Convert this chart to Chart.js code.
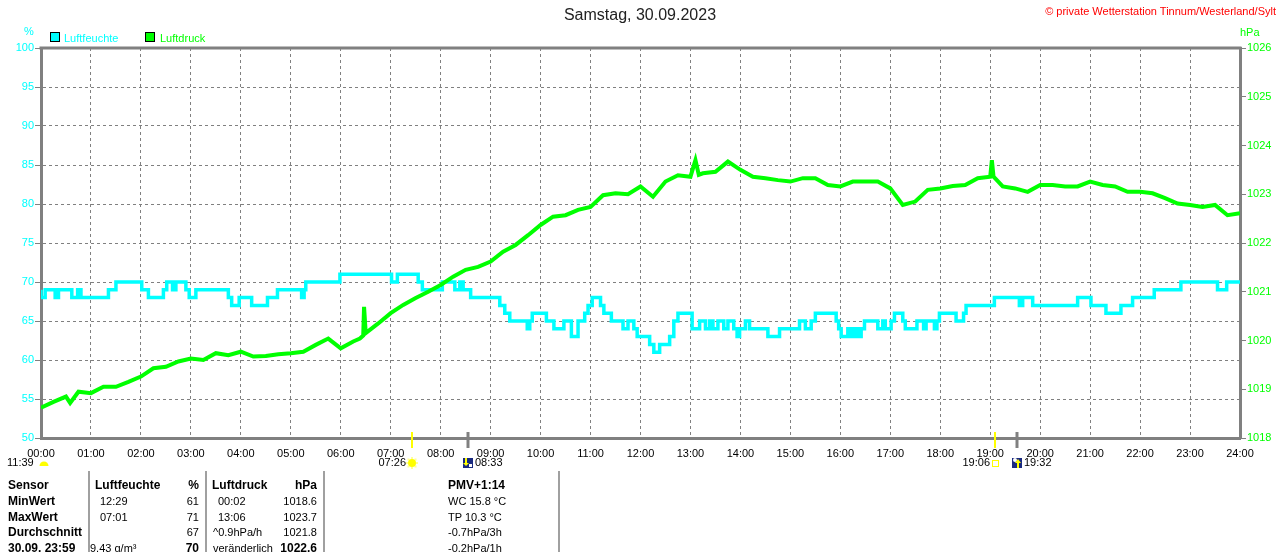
<!DOCTYPE html>
<html>
<head>
<meta charset="utf-8">
<script src="https://cdn.jsdelivr.net/npm/chart.js@4"></script>
<style>
  body { margin: 0; background: #fff; font-family: 'Liberation Sans', Arial, sans-serif; }
  #wrap { position: relative; width: 1280px; height: 552px; overflow: hidden; }
  #c { position: absolute; left: 0; top: 0; }
  .t { position: absolute; white-space: pre; font-size: 11px; line-height: 16px; color: #000; }
  .b { font-weight: bold; font-size: 12px; }
  .sep { position: absolute; top: 471px; width: 2px; height: 81px; background: #a0a0a0; }
  .box { position: absolute; width: 8px; height: 8px; border: 1px solid #000; }
</style>
</head>
<body>
<div id="wrap">
  <canvas id="c" width="1280" height="552"></canvas>
  <div class="t" style="left:0;width:1280px;text-align:center;top:5px;line-height:20px;font-size:16px;color:#222">Samstag, 30.09.2023</div>
  <div class="t" style="right:4px;top:4px;line-height:14px;color:#ff0000">© private Wetterstation Tinnum/Westerland/Sylt</div>
  <div class="t" style="left:24px;top:23px;color:#00ffff">%</div>
  <div class="t" style="left:1240px;top:24px;color:#00ff00">hPa</div>
  <div class="box" style="left:50px;top:32px;background:#00ffff"></div>
  <div class="t" style="left:64px;top:30px;color:#00ffff">Luftfeuchte</div>
  <div class="box" style="left:145px;top:32px;background:#00ff00"></div>
  <div class="t" style="left:160px;top:30px;color:#00ff00">Luftdruck</div>
  <div id="table"></div>
</div>
<script>
// Luftfeuchte (%), Zeitpunkte der Änderung in Minuten ab 00:00
const humTimes = [0, 5, 17, 21, 37, 44, 48, 81, 90, 121, 129, 147, 151, 158, 162, 174, 178, 186,
  225, 229, 238, 253, 272, 284, 313, 316, 318, 359, 421, 428, 453, 458, 482, 497, 503, 507, 516,
  551, 557, 563, 584, 587, 590, 607, 616, 628, 637, 645, 653, 657, 662, 672, 676, 685, 699, 705,
  712, 716, 731, 736, 743, 755, 760, 765, 782, 791, 798, 803, 807, 813, 820, 825, 832, 836, 839,
  846, 851, 873, 887, 911, 918, 925, 930, 955, 958, 961, 969, 973, 977, 981, 985, 989, 1005,
  1011, 1014, 1021, 1025, 1035, 1038, 1052, 1060, 1063, 1073, 1076, 1079, 1099, 1108, 1111,
  1145, 1175, 1179, 1191, 1245, 1261, 1279, 1297, 1311, 1337, 1369, 1413, 1424, 1428, 1440];
const humValues = [69, 68, 69, 68, 69, 68, 69, 68, 69, 70, 69, 68, 69, 70, 69, 70, 69, 68,
  69, 68, 67, 68, 67, 68, 69, 68, 69, 70, 71, 70, 71, 70, 69, 70, 69, 70, 69,
  68, 67, 66, 65, 64, 65, 66, 65, 64, 65, 63, 65, 66, 67, 68, 67, 66, 65, 64,
  65, 64, 63, 62, 61, 62, 63, 65, 66, 64, 65, 64, 65, 64, 65, 64, 65, 64, 63,
  64, 65, 64, 63, 64, 65, 64, 65, 66, 65, 64, 63, 64, 63, 64, 63, 64, 65,
  64, 65, 64, 65, 66, 65, 64, 65, 64, 65, 64, 65, 66, 65, 66,
  67, 68, 67, 68, 67, 68, 67, 66, 67, 68, 69, 70, 69, 70, 70];

// Luftdruck (hPa)
const pressTimes = [0, 15, 30, 35, 45, 60, 75, 90, 105, 120, 135, 150, 165, 180, 195, 210, 225, 240,
  255, 270, 285, 300, 315, 330, 345, 360, 375, 383, 387, 388, 390, 405, 420, 435, 450, 465, 480,
  495, 510, 525, 540, 555, 570, 585, 600, 615, 630, 645, 660, 675, 690, 705, 720, 735, 750, 765,
  780, 786, 790, 795, 810, 825, 840, 855, 870, 885, 900, 915, 930, 945, 960, 975, 990, 1005,
  1020, 1035, 1050, 1065, 1080, 1095, 1110, 1125, 1140, 1142, 1144, 1155, 1170, 1185, 1200,
  1215, 1230, 1245, 1260, 1275, 1290, 1305, 1320, 1335, 1350, 1365, 1380, 1395, 1410, 1425, 1440];
const pressValues = [1018.62, 1018.74, 1018.85, 1018.72, 1018.95, 1018.92, 1019.05, 1019.05, 1019.15,
  1019.26, 1019.43, 1019.46, 1019.57, 1019.63, 1019.60, 1019.74, 1019.70, 1019.77, 1019.67,
  1019.68, 1019.72, 1019.74, 1019.77, 1019.91, 1020.04, 1019.84, 1019.98, 1020.04, 1020.10,
  1020.69, 1020.15, 1020.35, 1020.56, 1020.73, 1020.87, 1021.00, 1021.14, 1021.31, 1021.45,
  1021.51, 1021.62, 1021.82, 1021.96, 1022.16, 1022.37, 1022.54, 1022.57, 1022.68, 1022.74,
  1022.98, 1023.02, 1023.00, 1023.16, 1022.95, 1023.26, 1023.39, 1023.36, 1023.70, 1023.40,
  1023.43, 1023.46, 1023.67, 1023.50, 1023.36, 1023.33, 1023.29, 1023.26, 1023.33, 1023.33,
  1023.19, 1023.16, 1023.26, 1023.26, 1023.26, 1023.12, 1022.78, 1022.85, 1023.09, 1023.12,
  1023.17, 1023.19, 1023.33, 1023.36, 1023.70, 1023.36, 1023.16, 1023.12, 1023.05, 1023.19,
  1023.19, 1023.16, 1023.16, 1023.26, 1023.19, 1023.16, 1023.05, 1023.05, 1023.02, 1022.92,
  1022.81, 1022.78, 1022.74, 1022.78, 1022.57, 1022.61];

// Sonne / Mond
const sunrise = 446, moonset = 513, sunset = 1146, moonrise = 1172;
const sunriseLabel = '07:26', moonsetLabel = '08:33', sunsetLabel = '19:06', moonriseLabel = '19:32';
const dayLength = '11:39';

// Tabelle unten
const tableLabels = ['Sensor', 'MinWert', 'MaxWert', 'Durchschnitt', '30.09. 23:59'];
const humCol = ['Luftfeuchte', '12:29', '07:01', '', '9.43 g/m³'];
const humPct = ['%', '61', '71', '67', '70'];
const pressCol = ['Luftdruck', '00:02', '13:06', '^0.9hPa/h', 'veränderlich'];
const pressVal = ['hPa', '1018.6', '1023.7', '1021.8', '1022.6'];
const extraCol = ['PMV+1:14', 'WC 15.8 °C', 'TP 10.3 °C', '-0.7hPa/3h', '-0.2hPa/1h'];

const humColX = [95, 100, 100, 100, 90];
const pressColX = [212, 218, 218, 213, 213];

const table = document.getElementById('table');
function cell(text, x, top, bold, right) {
  const d = document.createElement('div');
  d.className = 't' + (bold ? ' b' : '');
  d.textContent = text;
  d.style.top = top + 'px';
  if (right) { d.style.left = (x - 100) + 'px'; d.style.width = '100px'; d.style.textAlign = 'right'; }
  else d.style.left = x + 'px';
  table.appendChild(d);
}
for (let i = 0; i < tableLabels.length; i++) {
  const top = 477 + i * 15.8;
  const head = i === 0, last = i === tableLabels.length - 1;
  cell(tableLabels[i], 8, top, true, false);
  cell(humCol[i], humColX[i], top, head, false);
  cell(humPct[i], 199, top, head || last, true);
  cell(pressCol[i], pressColX[i], top, head, false);
  cell(pressVal[i], 317, top, head || last, true);
  cell(extraCol[i], 448, top, head, false);
}
[88, 205, 323, 558].forEach(x => {
  const s = document.createElement('div');
  s.className = 'sep';
  s.style.left = x + 'px';
  table.appendChild(s);
});

const FONT = "'Liberation Sans', Arial, sans-serif";
const GRAY = '#808080';

const extras = {
  id: 'extras',
  afterDraw(chart) {
    const ctx = chart.ctx;
    const a = chart.chartArea;
    const x = chart.scales.x;
    ctx.save();
    // top border
    ctx.strokeStyle = GRAY;
    ctx.lineWidth = 3;
    ctx.beginPath();
    ctx.moveTo(a.left - 1.5, a.top);
    ctx.lineTo(a.right + 1.5, a.top);
    ctx.stroke();

    // marker ticks on the time axis
    function tick(t, color, w) {
      const px = Math.round(x.getPixelForValue(t));
      ctx.strokeStyle = color;
      ctx.lineWidth = w;
      ctx.beginPath();
      ctx.moveTo(px, a.bottom - 6);
      ctx.lineTo(px, a.bottom + 10);
      ctx.stroke();
      return px;
    }
    const ySym = a.bottom + 25;
    ctx.font = '11px ' + FONT;
    ctx.fillStyle = '#000';
    ctx.textBaseline = 'middle';

    // sunrise
    let px = tick(sunrise, '#ffff00', 2);
    ctx.fillStyle = '#ffff99';
    for (let k = 0; k < 8; k++) {
      const ang = k * Math.PI / 4;
      ctx.fillRect(px + Math.cos(ang) * 5 - 1, ySym + Math.sin(ang) * 5 - 1, 2, 2);
    }
    ctx.fillStyle = '#ffff00';
    ctx.beginPath(); ctx.arc(px, ySym, 4, 0, Math.PI * 2); ctx.fill();
    ctx.fillStyle = '#000';
    ctx.textAlign = 'right';
    ctx.fillText(sunriseLabel, px - 6, ySym);

    // moonset
    px = tick(moonset, GRAY, 3);
    ctx.fillStyle = '#1a2a80';
    ctx.fillRect(px - 5, ySym - 5, 10, 10);
    ctx.fillStyle = '#ffffff';
    ctx.fillRect(px + 1, ySym + 1, 3, 3);
    ctx.fillStyle = '#ffff00';
    ctx.fillRect(px - 3, ySym - 5, 2, 6);
    ctx.beginPath(); ctx.moveTo(px - 5, ySym); ctx.lineTo(px + 1, ySym); ctx.lineTo(px - 2, ySym + 3); ctx.fill();
    ctx.fillStyle = '#000';
    ctx.textAlign = 'left';
    ctx.fillText(moonsetLabel, px + 7, ySym);

    // sunset
    px = tick(sunset, '#ffff00', 2);
    ctx.strokeStyle = '#ffff00';
    ctx.lineWidth = 1;
    ctx.strokeRect(px - 2.5, ySym - 2.5, 6, 6);
    ctx.fillStyle = '#000';
    ctx.textAlign = 'right';
    ctx.fillText(sunsetLabel, px - 5, ySym);

    // moonrise
    px = tick(moonrise, GRAY, 3);
    ctx.fillStyle = '#1a2a80';
    ctx.fillRect(px - 5, ySym - 5, 10, 10);
    ctx.fillStyle = '#ffffff';
    ctx.beginPath(); ctx.arc(px - 2, ySym - 3, 2, 0, Math.PI * 2); ctx.fill();
    ctx.fillStyle = '#ffff00';
    ctx.fillRect(px, ySym - 1, 2, 6);
    ctx.beginPath(); ctx.moveTo(px - 2, ySym); ctx.lineTo(px + 4, ySym); ctx.lineTo(px + 1, ySym - 4); ctx.fill();
    ctx.fillStyle = '#000';
    ctx.textAlign = 'left';
    ctx.fillText(moonriseLabel, px + 7, ySym);

    // day length at the left
    ctx.textAlign = 'left';
    ctx.fillText(dayLength, 7, ySym);
    ctx.fillStyle = '#ffff00';
    ctx.beginPath(); ctx.arc(44, ySym + 3, 4.5, Math.PI, 0); ctx.fill();
    ctx.restore();
  }
};

new Chart(document.getElementById('c'), {
  type: 'line',
  data: {
    datasets: [{
      label: 'Luftfeuchte',
      data: humTimes.map((t, i) => ({ x: t, y: humValues[i] })),
      yAxisID: 'y',
      borderColor: '#00ffff',
      borderWidth: 3.5,
      stepped: 'after',
      pointRadius: 0,
      order: 1
    }, {
      label: 'Luftdruck',
      data: pressTimes.map((t, i) => ({ x: t, y: pressValues[i] })),
      yAxisID: 'y1',
      borderColor: '#00ff00',
      borderWidth: 4,
      tension: 0,
      pointRadius: 0,
      order: 0
    }]
  },
  options: {
    responsive: false,
    animation: false,
    layout: { padding: { left: 0, right: 0, top: 48, bottom: 0 } },
    plugins: {
      legend: { display: false },
      tooltip: { enabled: false },
      title: { display: false }
    },
    scales: {
      x: {
        type: 'linear',
        min: 0,
        max: 1440,
        afterFit: s => { s.height = 114; },
        ticks: {
          stepSize: 60,
          autoSkip: false,
          maxRotation: 0,
          padding: 9,
          color: '#000',
          font: { family: FONT, size: 11 },
          callback: v => String(v / 60).padStart(2, '0') + ':00'
        },
        grid: { color: GRAY, lineWidth: 1, drawTicks: false },
        border: { color: GRAY, width: 3, dash: [3, 3] }
      },
      y: {
        position: 'left',
        min: 50,
        max: 100,
        afterFit: s => { s.width = 41; },
        ticks: {
          stepSize: 5,
          padding: 1,
          color: '#00ffff',
          font: { family: FONT, size: 11 },
          callback: v => String(v)
        },
        grid: { color: GRAY, lineWidth: 1, tickLength: 6, tickColor: GRAY, tickBorderDash: [] },
        border: { color: GRAY, width: 3, dash: [3, 3] }
      },
      y1: {
        position: 'right',
        min: 1018,
        max: 1026,
        afterFit: s => { s.width = 40; },
        ticks: {
          stepSize: 1,
          padding: 1,
          color: '#00ff00',
          font: { family: FONT, size: 11 },
          callback: v => String(v)
        },
        grid: { drawOnChartArea: false, color: GRAY, tickLength: 6 },
        border: { color: GRAY, width: 3 }
      }
    }
  },
  plugins: [extras]
});
</script>
</body>
</html>
